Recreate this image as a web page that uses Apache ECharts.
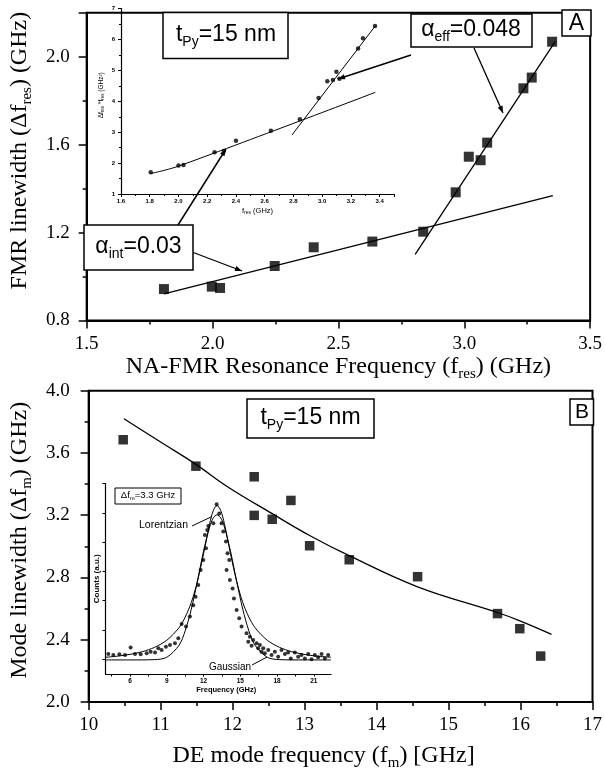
<!DOCTYPE html>
<html><head><meta charset="utf-8">
<script src="https://cdn.jsdelivr.net/npm/echarts@6/dist/echarts.min.js"></script>
<style>html,body{margin:0;padding:0;background:#fff}#c{width:605px;height:772px}</style>
</head><body><div id="c"></div>
<script>
// ---------- Panel A : main ----------
const fresA = [1.807, 1.997, 2.030, 2.247, 2.402, 2.635, 2.837, 2.966, 3.018, 3.065, 3.091, 3.235, 3.268, 3.349];
const dfresA = [0.943, 0.954, 0.948, 1.048, 1.133, 1.159, 1.204, 1.383, 1.545, 1.529, 1.609, 1.856, 1.905, 2.068];
const intFitX = [1.807, 3.352];
const intFitY = [0.921, 1.368];
const effFitX = [2.805, 3.361];
const effFitY = [1.101, 2.068];
// ---------- Panel A : inset ----------
const fresIn = [1.807, 2.0, 2.035, 2.251, 2.316, 2.40, 2.643, 2.845, 2.975, 3.036, 3.075, 3.099, 3.12, 3.25, 3.284, 3.368];
const prodIn = [1.70, 1.92, 1.94, 2.35, 2.39, 2.72, 3.05, 3.42, 4.11, 4.65, 4.69, 4.96, 4.73, 5.71, 6.04, 6.44];
const inLowX = [1.807, 2.0, 3.37];
const inLowY = [1.66, 1.90, 4.29];
const inSteepX = [2.79, 3.37];
const inSteepY = [2.91, 6.44];
// ---------- Panel B : main ----------
const fmB = [10.48, 11.49, 12.30, 12.30, 12.55, 12.81, 13.07, 13.62, 14.57, 15.68, 15.99, 16.28];
const dfmB = [3.685, 3.515, 3.447, 3.199, 3.174, 3.295, 3.004, 2.914, 2.805, 2.568, 2.471, 2.295];
const fitBX = [10.49, 11.0, 11.48, 11.94, 12.55, 13.07, 13.62, 14.57, 15.68, 16.0, 16.43];
const fitBY = [3.82, 3.67, 3.53, 3.38, 3.21, 3.07, 2.94, 2.74, 2.575, 2.52, 2.435];
// ---------- Panel B : inset spectrum ----------
const specX = [4.23, 4.64, 5.13, 5.59, 6.05, 6.41, 6.87, 7.36, 7.68, 8.04, 8.31, 8.58, 8.93, 9.26, 9.67, 9.94, 10.21, 10.57, 10.89, 11.16, 11.35, 11.57, 11.76, 11.98, 12.11, 12.2, 12.3, 12.39, 12.8, 13.07, 13.28, 13.47, 13.61, 13.83, 13.96, 14.1, 13.88, 14.15, 14.37, 14.48, 14.7, 14.91, 15.1, 15.51, 15.65, 15.78, 15.92, 16.05, 16.33, 16.46, 16.6, 16.73, 16.87, 17.0, 17.28, 17.55, 17.82, 18.09, 18.36, 18.64, 18.9, 19.12, 19.45, 19.72, 19.99, 20.27, 20.54, 20.81, 21.08, 21.35, 21.63, 21.9, 22.17];
const specY = [0.68, 0.65, 0.67, 0.65, 0.90, 0.68, 0.67, 0.71, 0.76, 0.73, 0.88, 0.82, 0.93, 0.99, 1.05, 1.22, 1.71, 1.62, 1.96, 2.35, 2.64, 3.04, 3.55, 3.89, 4.74, 4.29, 4.91, 5.05, 5.14, 5.79, 5.48, 5.14, 4.86, 4.52, 4.12, 3.89, 3.55, 3.21, 2.92, 2.58, 2.18, 1.90, 1.62, 1.39, 1.10, 1.27, 0.96, 1.16, 1.05, 0.88, 0.99, 0.76, 0.88, 0.71, 0.82, 0.65, 0.76, 0.59, 0.82, 0.68, 0.73, 0.53, 0.73, 0.59, 0.65, 0.53, 0.68, 0.50, 0.65, 0.57, 0.68, 0.53, 0.65];
const lorX = [4.0, 5.0, 6.0, 7.0, 8.0, 9.0, 10.0, 10.5, 11.0, 11.5, 12.0, 12.5, 12.8, 13.1, 13.4, 13.7, 14.2, 14.7, 15.2, 15.7, 16.2, 17.2, 18.2, 19.2, 20.2, 21.2, 22.4];
const lorY = [0.57, 0.61, 0.67, 0.76, 0.91, 1.15, 1.58, 1.94, 2.44, 3.16, 4.10, 5.13, 5.58, 5.75, 5.58, 5.13, 4.10, 3.16, 2.44, 1.94, 1.58, 1.15, 0.91, 0.76, 0.67, 0.61, 0.57];
const gauX = [4.0, 6.0, 8.0, 9.0, 10.0, 10.5, 11.0, 11.5, 12.0, 12.5, 12.8, 13.1, 13.4, 13.7, 14.2, 14.7, 15.2, 15.7, 16.2, 17.2, 18.2, 20.2, 22.4];
const gauY = [0.48, 0.48, 0.49, 0.57, 0.98, 1.47, 2.21, 3.17, 4.19, 5.02, 5.33, 5.43, 5.33, 5.02, 4.19, 3.17, 2.21, 1.47, 0.98, 0.57, 0.49, 0.48, 0.48];
// ---------- tick values ----------
const insetBLabelTicks = [6, 9, 12, 15, 18, 21];
const insetBXTicks = [4.5, 6, 7.5, 9, 10.5, 12, 13.5, 15, 16.5, 18, 19.5, 21];
const insetBYTicks = [0.5, 1.5, 2.5, 3.5, 4.5, 5.5, 6.5];

const zip = (a, b) => a.map((v, i) => [v, b[i]]);
const SERIF = '"Liberation Serif", "DejaVu Serif", serif';
const SANS = '"Liberation Sans", Arial, sans-serif';
function rich(size, sub, fam) {
  return {
    a: {fontSize: size, fontFamily: fam, color: '#000', fill: '#000', lineHeight: Math.round(size * 1.25)},
    s: {fontSize: sub, fontFamily: fam, color: '#000', fill: '#000', lineHeight: sub, verticalAlign: 'bottom'}
  };
}
const BLACK = {color: '#000'};
function axisCommon(extra) {
  const base = {
    type: 'value', nameLocation: 'middle',
    axisLine: {show: true, onZero: false, lineStyle: {color: '#000', width: 2}},
    axisTick: {show: true, length: 8, lineStyle: {color: '#000', width: 1.5}},
    minorTick: {show: true, splitNumber: 2, length: 4, lineStyle: {color: '#000', width: 1.5}},
    splitLine: {show: false}
  };
  return Object.assign(base, extra);
}
function insetAxis(extra) {
  const base = {
    type: 'value', nameLocation: 'middle',
    axisLine: {show: true, onZero: false, lineStyle: {color: '#000', width: 1.2}},
    axisTick: {show: true, length: 3, lineStyle: {color: '#000', width: 1}},
    splitLine: {show: false}
  };
  return Object.assign(base, extra);
}

// ---------- annotation graphics ----------
const graphics = [];
function box(x, y, w, h, lw) {
  graphics.push({type: 'rect', z: 100, shape: {x: x, y: y, width: w, height: h},
    style: {fill: '#fff', stroke: '#000', lineWidth: lw || 1.5}});
}
function label(x, y, text, r, size, fam) {
  graphics.push({type: 'text', z: 101, x: x, y: y,
    style: {text: text, rich: r || undefined, fontSize: size, fontFamily: fam || SANS, fill: '#000',
      align: 'center', verticalAlign: 'middle'}});
}
function seg(x1, y1, x2, y2, w) {
  graphics.push({type: 'line', z: 99, shape: {x1: x1, y1: y1, x2: x2, y2: y2},
    style: {stroke: '#000', lineWidth: w || 1.3}});
}
function arrow(x1, y1, x2, y2, w) {
  seg(x1, y1, x2, y2, w);
  const dx = x2 - x1, dy = y2 - y1, L = Math.hypot(dx, dy);
  const ux = dx / L, uy = dy / L, hl = 7, hw = 2.6;
  const bx = x2 - ux * hl, by = y2 - uy * hl;
  graphics.push({type: 'polygon', z: 99, shape: {points: [[x2, y2], [bx - uy * hw, by + ux * hw], [bx + uy * hw, by - ux * hw]]},
    style: {fill: '#000'}});
}
const RB = rich(23, 14, SANS);
// Panel A boxes
box(163, 12.5, 125, 46);
label(226, 35, '{a|t}{s|Py}{a|=15 nm}', RB, 23);
box(411, 14, 121, 33);
label(471, 30, '{a|α}{s|eff}{a|=0.048}', RB, 23);
box(562, 10, 29, 26);
label(576.5, 23.5, 'A', null, 23);
box(84, 225, 109, 45);
label(138.5, 247, '{a|α}{s|int}{a|=0.03}', RB, 23);
arrow(192, 252, 242, 271, 1.3);
arrow(178, 225, 226, 149, 1.5);
arrow(411, 55, 338, 79, 1.5);
arrow(474, 48, 503, 113, 1.3);
// Panel B boxes
box(247, 399, 127, 39);
label(310.5, 418, '{a|t}{s|Py}{a|=15 nm}', RB, 23);
box(570, 399, 23.5, 26);
label(582, 412.5, 'B', null, 21);
// Inset B annotations
box(115, 488, 66, 16, 1);
label(148, 495.5, '{a|Δf}{s|m}{a|=3.3 GHz}', rich(9.5, 6, SANS), 9.5);
label(163.5, 525, 'Lorentzian', null, 10.5);
seg(192, 526, 212, 516.5, 1);
label(230, 667, 'Gaussian', null, 10);
seg(252, 665, 267, 657, 1);

const option = {
  animation: false,
  backgroundColor: '#fff',
  grid: [
    {left: 83.5, top: 12.7, width: 507.5, height: 307.8, show: true, borderColor: '#000', borderWidth: 2},
    {left: 121, top: 8.6, width: 273, height: 185.4},
    {left: 85.7, top: 390.7, width: 508, height: 311.3, show: true, borderColor: '#000', borderWidth: 2},
    {left: 105.5, top: 483.5, width: 225.5, height: 190.5}
  ],
  xAxis: [
    axisCommon({gridIndex: 0, min: 1.5, max: 3.5, interval: 0.5,
      name: '{a|NA-FMR Resonance Frequency (f}{s|res}{a|) (GHz)}', nameGap: 26,
      nameTextStyle: {rich: rich(24, 15, SERIF)},
      axisLabel: {color: '#000', fontFamily: SERIF, fontSize: 19, margin: 14, formatter: v => v.toFixed(1)}}),
    insetAxis({gridIndex: 1, min: 1.6, max: 3.5, interval: 0.2,
      minorTick: {show: true, splitNumber: 2, length: 2, lineStyle: BLACK},
      name: '{a|f}{s|res}{a| (GHz)}', nameGap: 12,
      nameTextStyle: {rich: rich(7.5, 5, SANS)},
      axisLabel: {color: '#000', fontFamily: SANS, fontSize: 6, fontWeight: 'bold', margin: 4, showMaxLabel: false, formatter: v => v.toFixed(1)}}),
    axisCommon({gridIndex: 2, min: 10, max: 17, interval: 1,
      name: '{a|DE mode frequency (f}{s|m}{a|) [GHz]}', nameGap: 39,
      nameTextStyle: {rich: rich(24, 15, SERIF), padding: [0, 34, 0, 0]},
      axisLabel: {color: '#000', fontFamily: SERIF, fontSize: 19, margin: 14, formatter: v => String(v)}}),
    insetAxis({gridIndex: 3, min: 4, max: 22.4,
      axisTick: {show: true, length: 2.5, customValues: insetBXTicks, lineStyle: BLACK},
      name: 'Frequency (GHz)', nameGap: 11,
      nameTextStyle: {fontFamily: SANS, fontSize: 7.5, fontWeight: 'bold', color: '#000', padding: [0, 0, 0, 16]},
      axisLabel: {color: '#000', fontFamily: SANS, fontSize: 6.5, fontWeight: 'bold', margin: 4, customValues: insetBLabelTicks}})
  ],
  yAxis: [
    axisCommon({gridIndex: 0, min: 0.8, max: 2.2, interval: 0.4,
      name: '{a|FMR linewidth (Δf}{s|res}{a|) (GHz)}', nameGap: 41,
      nameTextStyle: {rich: rich(24, 15, SERIF), padding: [0, 0, 0, 32]},
      axisLabel: {color: '#000', fontFamily: SERIF, fontSize: 19, margin: 17, showMaxLabel: false, formatter: v => v.toFixed(1)}}),
    insetAxis({gridIndex: 1, min: 1, max: 7, interval: 1,
      minorTick: {show: true, splitNumber: 2, length: 2, lineStyle: BLACK},
      name: '{a|Δf}{s|res}{a| *f}{s|res}{a| (GHz²)}', nameGap: 16,
      nameTextStyle: {rich: rich(6.5, 4.5, SANS), padding: [0, 0, 0, 12]},
      axisLabel: {color: '#000', fontFamily: SANS, fontSize: 6, fontWeight: 'bold', margin: 6}}),
    axisCommon({gridIndex: 2, min: 2.0, max: 4.0, interval: 0.4,
      name: '{a|Mode linewidth (Δf}{s|m}{a|) (GHz)}', nameGap: 45,
      nameTextStyle: {rich: rich(24, 15, SERIF), padding: [0, 0, 0, 12]},
      axisLabel: {color: '#000', fontFamily: SERIF, fontSize: 19, margin: 19, formatter: v => v.toFixed(1)}}),
    insetAxis({gridIndex: 3, min: 0, max: 6.5,
      axisTick: {show: true, length: 3, customValues: insetBYTicks, lineStyle: BLACK},
      axisLabel: {show: false},
      name: 'Counts (a.u.)', nameGap: 5,
      nameTextStyle: {fontFamily: SANS, fontSize: 8, fontWeight: 'bold', color: '#000'}})
  ],
  series: [
    {type: 'scatter', xAxisIndex: 0, yAxisIndex: 0, data: zip(fresA, dfresA), symbol: 'rect', symbolSize: 10, itemStyle: {color: '#000'}, z: 5},
    {type: 'line', xAxisIndex: 0, yAxisIndex: 0, data: zip(intFitX, intFitY), symbol: 'none', lineStyle: {color: '#000', width: 1.3}},
    {type: 'line', xAxisIndex: 0, yAxisIndex: 0, data: zip(effFitX, effFitY), symbol: 'none', lineStyle: {color: '#000', width: 1.3}},
    {type: 'scatter', xAxisIndex: 1, yAxisIndex: 1, data: zip(fresIn, prodIn), symbol: 'circle', symbolSize: 4.5, itemStyle: {color: '#000'}},
    {type: 'line', xAxisIndex: 1, yAxisIndex: 1, data: zip(inLowX, inLowY), symbol: 'none', smooth: 0.3, lineStyle: {color: '#000', width: 1}},
    {type: 'line', xAxisIndex: 1, yAxisIndex: 1, data: zip(inSteepX, inSteepY), symbol: 'none', lineStyle: {color: '#000', width: 1}},
    {type: 'scatter', xAxisIndex: 2, yAxisIndex: 2, data: zip(fmB, dfmB), symbol: 'rect', symbolSize: 9.5, itemStyle: {color: '#000'}, z: 5},
    {type: 'line', xAxisIndex: 2, yAxisIndex: 2, data: zip(fitBX, fitBY), symbol: 'none', smooth: 0.4, lineStyle: {color: '#000', width: 1.3}},
    {type: 'scatter', xAxisIndex: 3, yAxisIndex: 3, data: zip(specX, specY), symbol: 'circle', symbolSize: 4, itemStyle: {color: '#000'}},
    {type: 'line', xAxisIndex: 3, yAxisIndex: 3, data: zip(lorX, lorY), symbol: 'none', smooth: 0.3, lineStyle: {color: '#000', width: 1}},
    {type: 'line', xAxisIndex: 3, yAxisIndex: 3, data: zip(gauX, gauY), symbol: 'none', smooth: 0.3, lineStyle: {color: '#000', width: 1}}
  ],
  graphic: graphics
};
const chart = echarts.init(document.getElementById('c'), null, {renderer: 'canvas'});
chart.setOption(option);
</script>
</body></html>
